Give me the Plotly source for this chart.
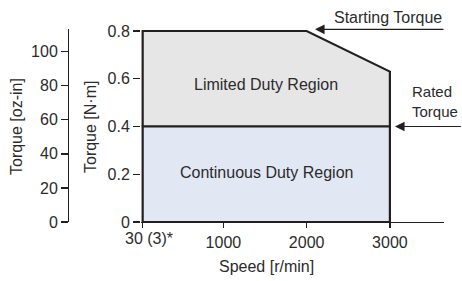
import plotly.graph_objects as go

# Data
speed_pts = [30, 2000, 3000]          # r/min
max_torque = [0.8, 0.8, 0.63]         # N·m
rated_torque = 0.4                    # N·m
x_tickvals = [30, 1000, 2000, 3000]
x_ticktext = ["", "1000", "2000", "3000"]
first_tick_label = "30 (3)*"
y_tickvals = [0, 0.2, 0.4, 0.6, 0.8]
y_ticktext = ["0", "0.2", "0.4", "0.6", "0.8"]
oz_tickvals = [0, 20, 40, 60, 80, 100]
NM_TO_OZIN = 141.612

FONT = "Liberation Sans, Arial, sans-serif"
FS = 16
TXT = "#2b2b2b"
EDGE = "#231f20"

OFF = 0  # body margin removed via post_script
W, H = 462, 281
PLOT_BOTTOM = 222
ML, MR, MT = 60, 18, 29
MB = H - PLOT_BOTTOM
PW = W - ML - MR
PH = H - MT - MB
x_dom0 = (141 - OFF - ML) / PW
y_top = 0.8084


def px(rx):
    return (rx - OFF - ML) / PW


def py(ry):
    return (H - (ry - OFF) - MB) / PH


fig = go.Figure()

# Limited duty region (gray)
fig.add_trace(go.Scatter(
    x=[speed_pts[0], speed_pts[0], speed_pts[1], speed_pts[2], speed_pts[2], speed_pts[0]],
    y=[rated_torque, max_torque[0], max_torque[1], max_torque[2], rated_torque, rated_torque],
    fill="toself", fillcolor="#e6e6e7", mode="lines",
    line=dict(color=EDGE, width=2.2), hoverinfo="skip", showlegend=False))
# Continuous duty region (blue)
fig.add_trace(go.Scatter(
    x=[speed_pts[0], speed_pts[0], speed_pts[2], speed_pts[2], speed_pts[0]],
    y=[0, rated_torque, rated_torque, 0, 0],
    fill="toself", fillcolor="#e2e8f3", mode="lines",
    line=dict(color=EDGE, width=2.2), hoverinfo="skip", showlegend=False))
# invisible trace for oz-in axis
fig.add_trace(go.Scatter(x=[None], y=[None], yaxis="y2", showlegend=False))

tickfont = dict(family=FONT, size=FS, color=TXT)
fig.update_layout(
    width=W, height=H,
    margin=dict(l=ML, r=MR, t=MT, b=MB, autoexpand=False),
    paper_bgcolor="white", plot_bgcolor="white",
    font=dict(family=FONT, size=FS, color=TXT),
    xaxis=dict(domain=[x_dom0, 1], range=[10, 3650], tickvals=x_tickvals, ticktext=x_ticktext,
               showgrid=False, zeroline=False, showline=True, linecolor=EDGE, linewidth=1.3,
               ticks="outside", ticklen=5, tickcolor=EDGE, tickwidth=1.3, tickfont=tickfont),
    yaxis=dict(range=[0, y_top], tickvals=y_tickvals, ticktext=y_ticktext,
               showgrid=False, zeroline=False, showline=False,
               ticks="outside", ticklen=7, tickcolor=EDGE, tickwidth=1.3, tickfont=tickfont),
    yaxis2=dict(anchor="free", overlaying="y", position=px(68), side="left",
                domain=[0, 0.8 / y_top], range=[0, 0.8 * NM_TO_OZIN],
                tickvals=oz_tickvals, showgrid=False, zeroline=False,
                showline=True, linecolor=EDGE, linewidth=1.3,
                ticks="outside", ticklen=7, tickcolor=EDGE, tickwidth=1.3, tickfont=tickfont),
)

afont = dict(family=FONT, size=FS, color=TXT)
ann = [
    dict(text="Torque [oz-in]", x=px(16), y=py(127), textangle=-90),
    dict(text="Torque [N·m]", x=px(90), y=py(127), textangle=-90),
    dict(text="Speed [r/min]", x=px(266), y=py(266)),
    dict(text=first_tick_label, x=px(149), y=py(238)),
    dict(text="Limited Duty Region", x=px(266), y=py(84)),
    dict(text="Continuous Duty Region", x=px(266), y=py(172)),
    dict(text="Starting Torque", x=px(388), y=py(17)),
    dict(text="Rated<br>Torque", x=px(410), y=py(101), xanchor="left", align="left",
         font=dict(family=FONT, size=15, color=TXT)),
]
for a in ann:
    a.setdefault("xanchor", "center")
    a.setdefault("font", afont)
    a.update(xref="paper", yref="paper", yanchor="middle", showarrow=False)

# arrows
ann.append(dict(x=2100, y=0.807, xref="x", yref="y", ax=3662, ay=0.807, axref="x", ayref="y",
                showarrow=True, arrowhead=2, arrowsize=1.6, arrowwidth=1.2, arrowcolor=EDGE, text=""))
ann.append(dict(x=3061, y=rated_torque, xref="x", yref="y", ax=3870, ay=rated_torque,
                axref="x", ayref="y",
                showarrow=True, arrowhead=2, arrowsize=1.6, arrowwidth=1.2, arrowcolor=EDGE, text=""))
fig.update_layout(annotations=ann)

fig.write_html(
    "out.html",
    config={"displayModeBar": False, "staticPlot": True},
    post_script="document.body.style.margin='0';document.body.style.overflow='hidden';",
)
